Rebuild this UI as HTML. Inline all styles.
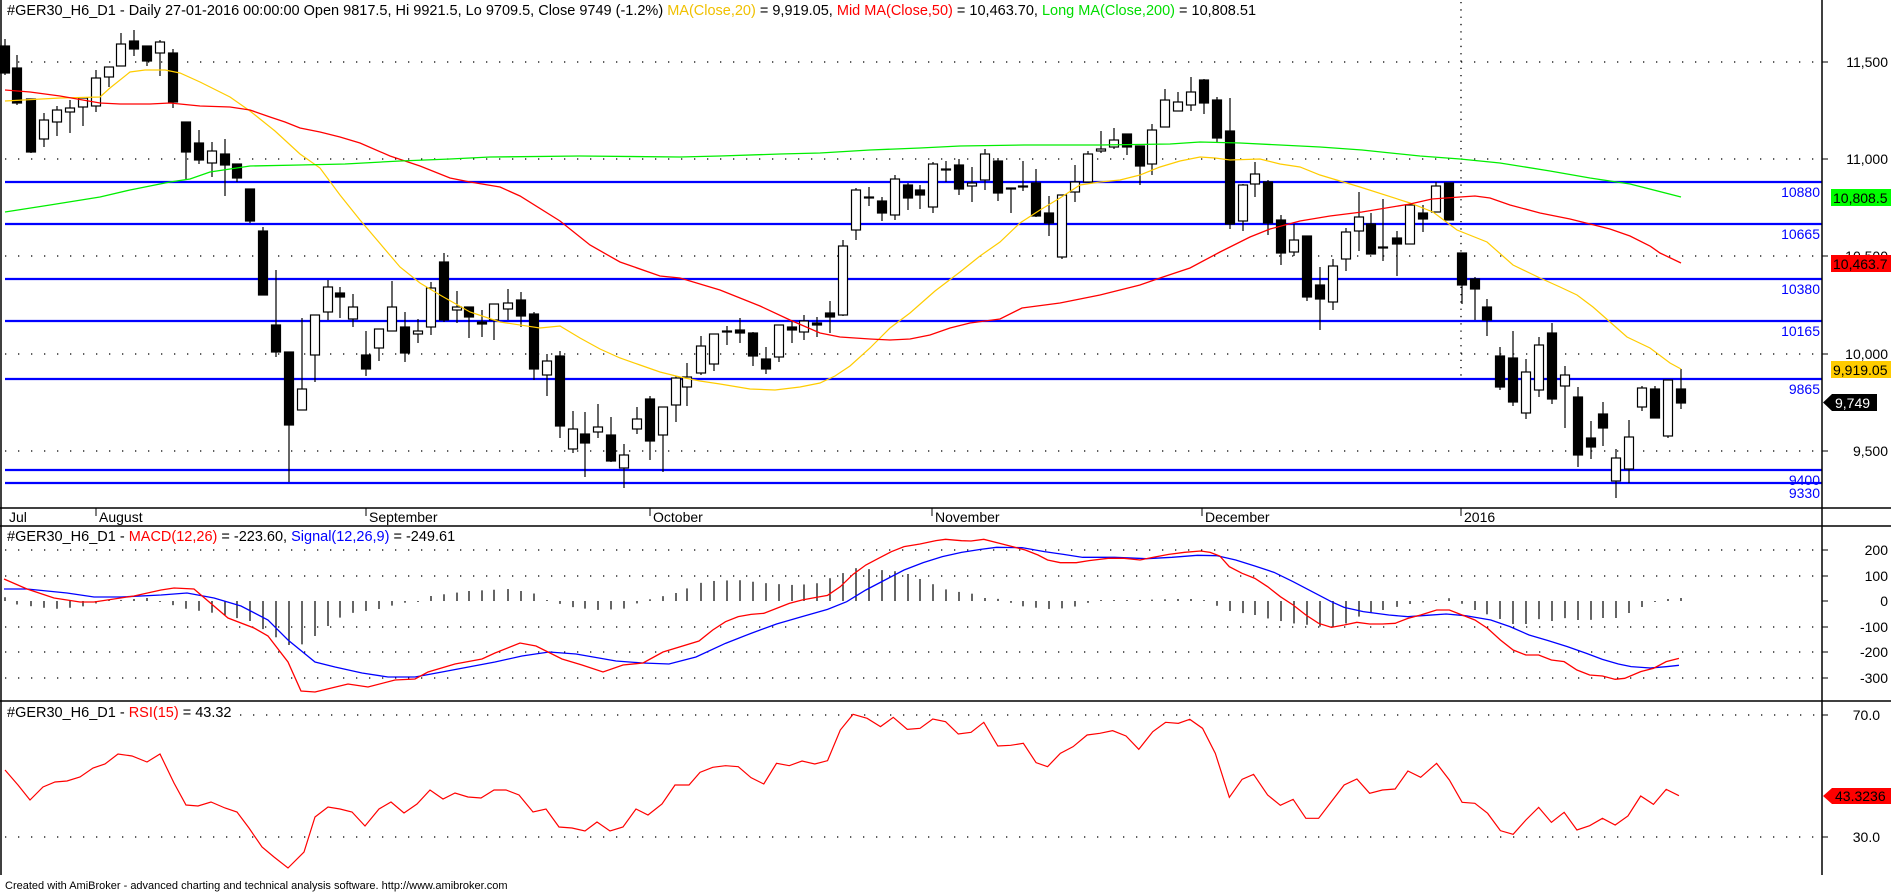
<!DOCTYPE html>
<html><head><meta charset="utf-8"><style>
html,body{margin:0;padding:0;background:#fff;width:1891px;height:892px;overflow:hidden}
svg{display:block;font-family:"Liberation Sans",Arial,sans-serif}
</style></head><body>
<svg id="c" xmlns="http://www.w3.org/2000/svg" width="1891" height="892" viewBox="0 0 1891 892">
<rect width="1891" height="892" fill="#fff"/>
<g id="grid"></g>
<g id="levels"></g>
<g id="ind"></g>
<g id="candles"></g>
<g id="ma"></g>
<g id="frame" stroke="#000" stroke-width="1.5" fill="none">
<line x1="1" y1="0" x2="1" y2="875"/>
<line x1="1822" y1="0" x2="1822" y2="875"/>
<line x1="0" y1="508" x2="1891" y2="508"/>
<line x1="0" y1="526" x2="1891" y2="526"/>
<line x1="0" y1="701" x2="1891" y2="701"/>
</g>
<g font-size="14.5" fill="#000">
<text x="7" y="15">#GER30_H6_D1 - Daily 27-01-2016 00:00:00 Open 9817.5, Hi 9921.5, Lo 9709.5, Close 9749 (-1.2%) <tspan fill="#f0c000">MA(Close,20)</tspan> = 9,919.05, <tspan fill="#ff0000">Mid MA(Close,50)</tspan> = 10,463.70, <tspan fill="#00dd00">Long MA(Close,200)</tspan> = 10,808.51</text>
<text x="7" y="541">#GER30_H6_D1 - <tspan fill="#ff0000">MACD(12,26)</tspan> = -223.60, <tspan fill="#0000ff">Signal(12,26,9)</tspan> = -249.61</text>
<text x="7" y="717">#GER30_H6_D1 - <tspan fill="#ff0000">RSI(15)</tspan> = 43.32</text>
</g>
<g id="dates" font-size="14" fill="#000"></g>
<g id="axis" font-size="14" fill="#000" text-anchor="end"></g>
<text x="5" y="889" font-size="11" fill="#000">Created with AmiBroker - advanced charting and technical analysis software. http://www.amibroker.com</text>
</svg>
<script>
var NS="http://www.w3.org/2000/svg";
function el(p,t,a,txt){var e=document.createElementNS(NS,t);for(var k in a)e.setAttribute(k,a[k]);if(txt!==undefined)e.textContent=txt;document.getElementById(p).appendChild(e);return e;}
function pl(p,pts,col,w){el(p,"polyline",{points:pts.map(function(q){return q[0]+","+q[1]}).join(" "),fill:"none",stroke:col,"stroke-width":w||1.2});}
[62,159,256,354,451,550,576,627,652,678,715,837].forEach(function(y){
 el("grid","line",{x1:(y==715?240:5),y1:y,x2:1822,y2:y,stroke:"#000","stroke-width":1.3,"stroke-dasharray":"1.3 11.7"});
 el("grid","line",{x1:1822,y1:y,x2:1828,y2:y,stroke:"#000","stroke-width":1});
});
el("grid","line",{x1:1461,y1:2,x2:1461,y2:381,stroke:"#000","stroke-width":1.3,"stroke-dasharray":"1.3 6"});
[[182,"10880"],[224,"10665"],[279,"10380"],[321,"10165"],[379,"9865"],[470,"9400"],[483,"9330"]].forEach(function(l){
 el("levels","line",{x1:5,y1:l[0],x2:1822,y2:l[0],stroke:"#0000ff","stroke-width":2.2});
 el("levels","text",{x:1820,y:l[0]+15,"font-size":14,fill:"#0000ff","text-anchor":"end"},l[1]);
});
var C=[[5,46,73,39,75,1],[17,68,103,55,105,1],[31,99,152,99,153,1],[44,120,139,113,147,0],[57,110,122,106,136,0],[70,108,112,100,133,0],[83,98,107,97,126,0],[96,78,106,70,112,0],[109,67,77,67,87,0],[121,44,66,33,66,0],[134,41,49,30,56,1],[147,46,61,46,66,1],[160,42,53,40,76,0],[173,53,102,49,108,1],[186,122,152,122,179,1],[199,143,160,130,164,1],[212,151,163,142,177,0],[225,154,165,139,196,1],[237,164,178,164,182,1],[250,189,221,189,223,1],[263,231,295,227,295,1],[276,325,352,270,357,1],[289,352,425,352,482,1],[302,389,410,318,410,0],[315,315,355,315,382,0],[328,287,312,280,320,0],[340,293,297,287,318,1],[353,307,319,294,327,0],[366,355,369,331,376,1],[379,329,348,329,361,0],[392,307,331,281,331,0],[405,327,353,312,362,1],[418,331,334,319,343,0],[431,288,327,282,335,0],[444,262,320,253,322,1],[457,307,310,291,323,0],[469,307,317,307,338,1],[482,322,324,310,337,1],[494,304,320,304,340,0],[508,303,309,289,320,0],[521,300,316,292,327,1],[534,314,369,312,380,1],[547,361,375,354,396,0],[560,356,426,351,438,1],[573,429,449,411,453,0],[585,434,443,412,477,1],[598,427,432,404,438,0],[611,435,461,417,462,1],[624,455,468,444,488,0],[637,419,429,407,434,0],[650,399,441,396,460,1],[663,407,435,407,472,0],[676,378,405,376,422,0],[687,377,387,363,406,0],[701,346,373,336,375,0],[714,334,364,334,371,0],[727,331,332,326,345,0],[740,330,333,318,343,1],[753,333,356,332,366,1],[766,359,369,347,374,1],[779,325,357,325,362,0],[792,327,330,320,343,1],[804,321,332,315,340,0],[817,323,325,317,337,1],[830,313,317,301,333,1],[843,246,315,240,316,0],[856,190,230,188,240,0],[869,197,198,187,206,0],[882,201,213,197,221,1],[895,179,215,175,220,0],[908,185,198,183,210,1],[920,190,195,185,209,1],[933,164,207,162,213,0],[946,169,170,161,182,0],[959,165,189,159,195,1],[972,183,186,167,202,0],[985,154,180,149,190,0],[998,161,193,158,201,1],[1011,188,189,188,213,0],[1023,186,187,161,191,0],[1036,183,216,169,217,1],[1049,213,223,196,236,1],[1062,195,257,195,259,0],[1075,182,192,165,202,0],[1088,154,182,151,182,0],[1101,149,151,131,153,0],[1114,140,147,128,149,0],[1127,134,147,134,155,1],[1140,146,166,146,185,1],[1152,130,164,124,175,0],[1165,100,127,89,127,0],[1178,102,111,92,111,0],[1191,92,105,77,111,0],[1204,80,103,79,114,1],[1217,100,138,97,143,1],[1230,131,224,98,229,1],[1243,185,221,184,231,0],[1255,174,184,162,197,0],[1268,182,223,180,235,1],[1281,220,253,215,265,1],[1294,240,252,224,256,0],[1307,236,297,236,301,1],[1320,285,299,267,330,1],[1333,266,302,259,310,0],[1346,232,259,228,271,0],[1359,217,231,192,251,0],[1371,224,254,213,254,1],[1383,247,248,199,261,0],[1397,238,244,231,276,1],[1410,205,244,205,244,0],[1423,213,219,205,232,1],[1436,186,212,182,212,0],[1449,183,220,183,220,1],[1462,253,285,253,304,1],[1475,279,289,277,320,1],[1487,307,320,299,336,1],[1500,356,387,347,390,1],[1513,358,402,331,406,1],[1526,372,413,359,419,0],[1539,345,390,337,397,0],[1552,333,399,323,404,1],[1565,375,386,366,428,0],[1578,397,455,387,467,1],[1591,438,447,421,459,1],[1603,414,428,402,446,1],[1616,458,481,449,498,0],[1629,437,469,420,483,0],[1642,388,407,386,411,0],[1655,389,418,386,418,1],[1668,380,436,380,438,0],[1681,389,403,369,409,1]];
C.forEach(function(c){
 el("candles","line",{x1:c[0],y1:c[3],x2:c[0],y2:c[4],stroke:"#000","stroke-width":1.2});
 var h=Math.max(c[2]-c[1],1);
 el("candles","rect",{x:c[0]-4.5,y:c[1],width:9,height:h,fill:c[5]?"#000":"#fff",stroke:"#000","stroke-width":1.2});
});
pl("ma",[[5,101],[60,98],[100,97],[110,88],[130,72],[145,70],[165,70],[180,73],[200,82],[230,97],[250,111],[275,131],[300,154],[320,168],[340,195],[360,220],[400,267],[420,283],[440,295],[470,312],[500,322],[540,328],[560,326],[580,338],[600,349],[620,358],[640,365],[660,372],[680,377],[700,381],[720,384],[750,389],[775,390],[800,387],[820,383],[835,376],[850,366],[870,348],[890,328],[910,313],[935,291],[960,272],[980,256],[1000,242],[1020,223],[1040,210],[1060,198],[1080,185],[1100,182],[1120,180],[1140,175],[1160,167],[1180,161],[1200,157],[1215,158],[1230,160],[1260,159],[1280,164],[1300,167],[1320,175],[1340,181],[1360,187],[1410,203],[1433,212],[1457,230],[1487,242],[1513,265],[1540,278],[1560,287],[1577,295],[1593,307],[1610,322],[1627,337],[1650,348],[1670,363],[1681,369]],"#ffcc00",1.2);
pl("ma",[[5,90],[30,92],[60,96],[100,103],[120,104],[150,104],[170,103],[200,106],[230,107],[250,110],[270,117],[285,122],[300,128],[320,132],[340,137],[360,143],[390,156],[420,166],[450,178],[470,182],[500,187],[520,196],[560,221],[590,245],[620,262],[660,276],[680,278],[720,290],[760,306],[790,320],[820,333],[840,337],[870,339],[890,340],[910,339],[930,335],[950,328],[970,323],[1000,319],[1022,308],[1060,303],[1100,295],[1140,285],[1160,278],[1190,268],[1220,252],[1250,237],[1270,229],[1300,221],[1330,216],[1362,212],[1410,204],[1432,199],[1460,197],[1475,196],[1490,198],[1510,205],[1540,213],[1570,219],[1590,224],[1610,229],[1630,236],[1650,246],[1660,253],[1681,263]],"#ff0000",1.3);
pl("ma",[[5,212],[50,205],[100,197],[130,190],[170,182],[190,179],[210,172],[250,166],[300,165],[345,164],[400,161],[450,159],[490,157],[580,156],[680,157],[720,156],[780,154],[820,153],[870,150],[920,148],[960,146],[1024,145],[1100,145],[1170,144],[1200,142],[1240,143],[1280,145],[1320,147],[1362,150],[1420,156],[1460,159],[1500,163],[1550,171],[1590,178],[1630,184],[1681,197]],"#00ee00",1.3);
function interp(P,x){for(var i=0;i<P.length-1;i++){if(x>=P[i][0]&&x<=P[i+1][0]){var t=(x-P[i][0])/(P[i+1][0]-P[i][0]);return P[i][1]+t*(P[i+1][1]-P[i][1]);}}return P[P.length-1][1];}
var H=[[0,8],[13,-3],[54,-8],[80,-6],[107,0],[147,3],[187,-8],[214,-12],[250,-20],[274,-35],[288,-44],[301,-44],[315,-35],[328,-25],[339,-17],[352,-12],[379,-8],[402,-2],[422,0],[431,5],[469,10],[509,12],[533,8],[549,0],[572,-6],[596,-9],[623,-8],[643,0],[676,8],[700,18],[713,20],[738,21],[764,18],[790,16],[815,17],[841,27],[854,33],[867,32],[894,30],[908,27],[920,22],[935,16],[950,10],[970,8],[985,3],[1000,2],[1020,-5],[1048,-8],[1070,-7],[1087,-2],[1100,0],[1175,2],[1200,2],[1230,-10],[1255,-14],[1270,-18],[1297,-23],[1310,-24],[1330,-27],[1345,-23],[1362,-14],[1383,-9],[1410,-3],[1435,0],[1450,3],[1475,-9],[1500,-18],[1512,-23],[1526,-23],[1538,-18],[1552,-20],[1564,-17],[1577,-19],[1590,-19],[1603,-17],[1616,-17],[1629,-12],[1642,-6],[1655,-1],[1668,2],[1681,3]];
C.forEach(function(c){var h=interp(H,c[0]);if(Math.abs(h)<1)h=h<0?-1:1;el("ind","line",{x1:c[0],y1:601,x2:c[0],y2:601-h,stroke:"#000","stroke-width":1.2});});
function z12(a){return a.map(function(q){return [700+q[0]/1.568,520+q[1]/3];});}
var macd=[[4,579],[27,589],[54,598],[80,602],[94,602],[134,596],[161,590],[174,588],[194,589],[201,595],[228,618],[254,628],[268,636],[288,662],[301,691],[315,692],[348,684],[368,687],[395,680],[415,679],[428,672],[455,664],[482,659],[495,653],[520,643],[536,646],[562,659],[582,665],[603,672],[623,665],[643,663],[663,652],[699,641]].concat(z12([[20,330],[40,305],[60,290],[80,283],[100,280],[120,265],[140,250],[160,240],[180,233],[200,226],[220,200],[240,163],[260,135],[280,115],[300,95],[320,80],[345,72],[370,62],[385,58],[410,62],[425,63],[445,58],[470,70],[490,80],[510,90],[530,105],[545,120],[565,128],[590,128],[610,122],[640,115],[665,115],[690,120],[710,112],[735,103],[760,97],[785,93],[800,97],[815,108],[830,140],[850,160],[870,175],[890,200],[910,230],[930,255],[950,285],[970,310],[990,322],[1010,315],[1030,307],[1050,312],[1070,312],[1090,310],[1110,295],[1130,285],[1155,270],[1175,270],[1195,285],[1215,300],[1235,325],[1255,360],[1275,390],[1295,405],[1315,405],[1335,420],[1355,425],[1375,450],[1395,465],[1415,468],[1435,478],[1450,475],[1475,455],[1495,445],[1515,425],[1535,415]]));
var sig=[[4,589],[27,589],[67,593],[94,597],[121,597],[161,595],[187,593],[214,598],[241,606],[268,620],[288,640],[315,662],[335,667],[362,673],[388,677],[415,677],[442,672],[495,662],[522,656],[549,652],[576,654],[616,661],[643,663],[669,664],[696,657]].concat(z12([[40,370],[80,340],[120,312],[160,290],[200,268],[230,245],[260,210],[290,180],[320,150],[350,128],[380,110],[410,97],[440,88],[465,82],[505,83],[540,95],[570,103],[600,112],[650,112],[700,116],[740,112],[780,106],[810,107],[840,120],[870,138],[900,157],[930,185],[960,215],[990,245],[1010,262],[1040,275],[1080,285],[1110,290],[1140,286],[1170,282],[1200,287],[1240,300],[1270,320],[1300,345],[1330,362],[1360,380],[1390,400],[1415,418],[1440,432],[1460,440],[1490,444],[1515,440],[1535,436]]));
pl("ind",sig,"#0000ff",1.3);
pl("ind",macd,"#ff0000",1.3);
var rsi=[[5,770],[18,785],[30,800],[43,787],[55,782],[67,781],[80,777],[93,768],[105,764],[118,754],[132,756],[147,762],[160,754],[174,783],[186,805],[198,806],[211,802],[225,808],[237,812],[249,828],[262,847],[274,857],[288,868],[304,852],[315,817],[328,807],[340,809],[352,812],[365,826],[379,809],[391,802],[404,813],[417,804],[430,790],[443,799],[455,793],[468,797],[481,798],[494,790],[506,790],[519,795],[533,812],[546,809],[559,827],[572,828],[585,831],[597,822],[610,831],[623,827],[636,809],[648,815],[662,804],[675,785],[689,785]].concat(z12([[0,757],[20,742],[40,737],[60,740],[80,773],[100,792],[120,730],[140,737],[160,723],[180,732],[200,722],[220,630],[240,583],[262,595],[283,620],[303,592],[325,628],[345,625],[365,597],[385,605],[405,642],[425,637],[445,607],[467,678],[487,676],[507,670],[527,728],[545,740],[565,700],[585,680],[607,645],[627,640],[647,632],[668,648],[688,688],[710,635],[730,607],[750,610],[768,598],[788,625],[808,700],[830,832],[850,778],[868,763],[890,825],[910,856],[930,838],[950,895],[970,895],[990,845],[1010,795],[1030,777],[1050,820],[1070,810],[1090,807],[1110,753],[1130,772],[1155,730],[1175,780],[1195,847],[1215,850],[1235,880],[1255,932],[1275,943],[1295,900],[1315,862],[1335,907],[1355,877],[1375,930],[1395,917],[1415,895],[1435,915],[1455,888],[1475,828],[1495,853],[1515,808],[1535,827]]));
pl("ind",rsi,"#ff0000",1.2);
[[9,null,"Jul"],[99,96,"August"],[369,366,"September"],[653,650,"October"],[935,932,"November"],[1205,1202,"December"],[1464,1461,"2016"]].forEach(function(d){
 if(d[1])el("dates","line",{x1:d[1],y1:508,x2:d[1],y2:516,stroke:"#000","stroke-width":1});
 el("dates","text",{x:d[0],y:522},d[2]);
});
[[62,"11,500"],[159,"11,000"],[256,"10,500"],[354,"10,000"],[451,"9,500"],[550,"200"],[576,"100"],[601,"0"],[627,"-100"],[652,"-200"],[678,"-300"]].forEach(function(a){el("axis","text",{x:1888,y:a[0]+5},a[1]);});
[[715,"70.0"],[837,"30.0"]].forEach(function(a){el("axis","text",{x:1880,y:a[0]+5},a[1]);});
el("axis","line",{x1:1822,y1:601,x2:1828,y2:601,stroke:"#000"});
function box(y1,y2,col,txt,tc,arrow,x2){
 x2=x2||1891;
 if(arrow){el("axis","polygon",{points:"1823,"+((y1+y2)/2)+" 1832,"+y1+" "+x2+","+y1+" "+x2+","+y2+" 1832,"+y2,fill:col});}
 else el("axis","rect",{x:1831,y:y1,width:x2-1831,height:y2-y1,fill:col});
 el("axis","text",{x:arrow?1835:1833,y:y2-3,"text-anchor":"start",fill:tc},txt);
}
box(189,206,"#00ff00","10,808.5","#000",false);
box(255,272,"#ff0000","10,463.7","#000",false);
box(361,378,"#ffcc00","9,919.05","#000",false);
box(394,411,"#000","9,749","#fff",true,1877);
box(788,804,"#ff0000","43.3236","#000",true);
</script>
</body></html>
